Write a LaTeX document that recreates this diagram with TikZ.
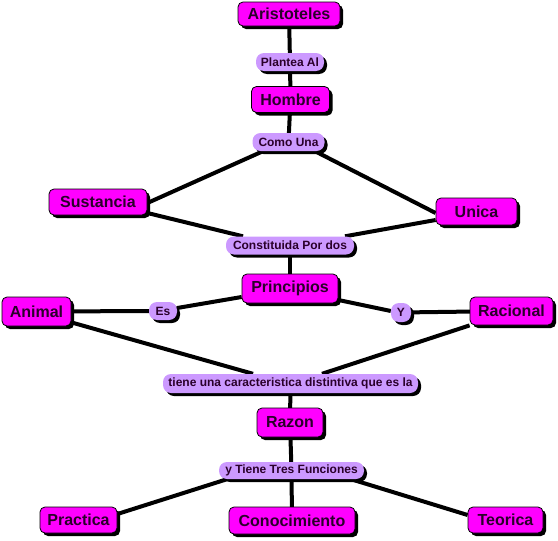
\documentclass[tikz,border=0pt]{standalone}
\usepackage{fontspec}
\setmainfont{Liberation Sans}
\usetikzlibrary{shadows,backgrounds}
\definecolor{conc}{HTML}{FF00FF}
\definecolor{lab}{HTML}{CC99FF}
\definecolor{txt}{HTML}{2A002A}
\tikzset{
  shad/.style={drop shadow={shadow xshift=3pt, shadow yshift=-3pt, fill=black, opacity=1}},
  concept/.style={draw=black, line width=0.8pt, fill=conc, rounded corners=5pt, inner sep=0pt,
    font=\fontsize{16}{18}\selectfont\bfseries, text=txt, shad},
  linklab/.style={fill=lab, rounded corners=8pt, inner sep=0pt,
    font=\fontsize{12}{14}\selectfont\bfseries, text=txt, shad},
  conn/.style={line width=4pt, black},
  sz/.style 2 args={minimum width=#1pt, minimum height=#2pt}
}
\begin{document}
\begin{tikzpicture}[x=1pt,y=-1pt]
\useasboundingbox (0,0) rectangle (558,541);
\node[concept, sz={102}{24}] (ari) at (289,14) {Aristoteles};
\node[linklab, sz={68}{18}] (pla) at (290,62) {Plantea Al};
\node[concept, sz={78}{26}] (hom) at (290.5,99.5) {Hombre};
\node[linklab, sz={72}{18}] (com) at (288.5,142) {Como Una};
\node[concept, sz={98}{26}] (sus) at (98,202) {Sustancia};
\node[concept, sz={81}{27}] (uni) at (476.5,211.5) {Unica};
\node[linklab, sz={128}{18}] (con) at (290,245.5) {Constituida Por dos};
\node[concept, sz={96}{29}] (pri) at (290,288.5) {Principios};
\node[concept, sz={69}{29}] (ani) at (36.5,311.5) {Animal};
\node[linklab, sz={28}{18}] (es) at (163,311) {Es};
\node[linklab, sz={20}{19}] (yy) at (401,312.5) {Y};
\node[concept, sz={83}{28}] (rac) at (511.5,311) {Racional};
\node[linklab, sz={255}{19}] (tie) at (290.5,383.5) {tiene una caracteristica distintiva que es la};
\node[concept, sz={66}{29}] (raz) at (290,422.5) {Razon};
\node[linklab, sz={145}{17}] (yti) at (291.5,470.5) {y Tiene Tres Funciones};
\node[concept, sz={77}{26}] (pra) at (78.5,520) {Practica};
\node[concept, sz={126}{27}] (cono) at (292,520.5) {Conocimiento};
\node[concept, sz={75}{26}] (teo) at (505.5,520) {Teorica};
\begin{pgfonlayer}{background}
\draw[conn] (ari.center) -- (pla.center);
\draw[conn] (pla.center) -- (hom.center);
\draw[conn] (hom.center) -- (com.center);
\draw[conn] ([xshift=-25.5pt]com.south) -- ([yshift=-1pt]sus.east);
\draw[conn] ([xshift=26.5pt]com.south) -- ([yshift=-1.5pt]uni.west);
\draw[conn] ([yshift=-11pt]sus.east) -- ([xshift=-47pt]con.north);
\draw[conn] ([yshift=-8.5pt]uni.west) -- ([xshift=55pt]con.north);
\draw[conn] (con.center) -- (pri.center);
\draw[conn] (ani.center) -- (es.center);
\draw[conn] ([yshift=3pt]es.east) -- ([yshift=-8.5pt]pri.west);
\draw[conn] ([yshift=-11.5pt]pri.east) -- ([yshift=1.5pt]yy.west);
\draw[conn] (yy.center) -- (rac.center);
\draw[conn] ([yshift=4pt]ani.south east) -- ([xshift=-37.5pt]tie.north);
\draw[conn] (rac.south west) -- ([xshift=31.5pt]tie.north);
\draw[conn] (tie.center) -- (raz.center);
\draw[conn] (raz.center) -- (yti.center);
\draw[conn] ([xshift=-64.5pt]yti.south) -- ([yshift=6pt]pra.east);
\draw[conn] (yti.center) -- (cono.center);
\draw[conn] ([xshift=59.5pt]yti.south) -- ([yshift=5pt]teo.west);
\end{pgfonlayer}
\end{tikzpicture}
\end{document}
